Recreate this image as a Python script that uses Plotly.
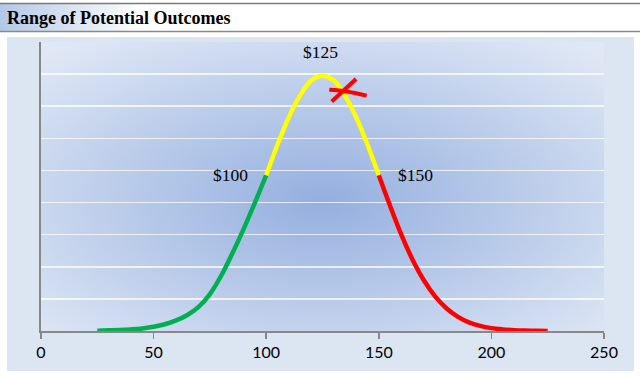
import base64
import plotly.graph_objects as go

# ---------------- data ----------------
green_x = [25, 30, 35, 40, 45, 50, 55, 60, 65, 70, 75, 80, 85, 90, 95, 100]
green_y = [0.01, 0.02, 0.03, 0.05, 0.08, 0.13, 0.21, 0.33, 0.50, 0.75, 1.15, 1.72, 2.42, 3.18, 4.00, 4.85]

yellow_x = [100, 105, 110, 115, 120, 125, 130, 135, 140, 145, 150]
yellow_y = [4.85, 5.80, 6.65, 7.33, 7.80, 7.95, 7.80, 7.33, 6.65, 5.80, 4.85]

red_x = [150, 155, 160, 165, 170, 175, 180, 185, 190, 195, 200, 205, 210, 215, 220, 225]
red_y = [4.85, 3.90, 3.00, 2.22, 1.58, 1.08, 0.71, 0.45, 0.27, 0.16, 0.09, 0.05, 0.025, 0.012, 0.006, 0.003]

# hand-drawn red cross near the peak
cross1_x = [129.1, 139.9]
cross1_y = [7.15, 7.85]
cross2_x = [128.0, 135.7, 144.6]
cross2_y = [7.51, 7.46, 7.33]

label_x = [100, 125, 150]
label_y = [4.85, 7.95, 4.85]
label_text = ["$100", "$125", "$150"]

x_ticks = [0, 50, 100, 150, 200, 250]
grid_vals = [1, 2, 3, 4, 5, 6, 7, 8]

title_text = "Range of Potential Outcomes"

# ---------------- styling ----------------
W, H = 640, 376
L, R, T, B = 41, 36, 42, 45
PW, PH = W - L - R, H - T - B

svg_bg = f'''<svg xmlns="http://www.w3.org/2000/svg" width="{W}" height="{H}" viewBox="0 0 {W} {H}" preserveAspectRatio="none">
<defs><linearGradient id="tg" x1="0" y1="0" x2="1" y2="0">
<stop offset="0" stop-color="#b3c8e6"/><stop offset="0.22" stop-color="#ffffff"/></linearGradient></defs>
<rect x="0" y="0" width="{W}" height="{H}" fill="#ffffff"/>
<rect x="0" y="3" width="{W}" height="28" fill="url(#tg)"/>
<line x1="0" y1="3.5" x2="{W}" y2="3.5" stroke="#7a7a7a" stroke-width="1.6"/>
<line x1="0" y1="31.5" x2="{W}" y2="31.5" stroke="#8a8a8a" stroke-width="1.4"/>
<rect x="7" y="37" width="627" height="334" fill="#dce6f2"/>
</svg>'''

svg_plot = f'''<svg xmlns="http://www.w3.org/2000/svg" width="{PW}" height="{PH}" viewBox="0 0 {PW} {PH}" preserveAspectRatio="none">
<defs><radialGradient id="rg" cx="0.5" cy="0.55" r="0.71">
<stop offset="0" stop-color="#94afdf"/><stop offset="1" stop-color="#e0e8f5"/></radialGradient></defs>
<rect x="0" y="0" width="{PW}" height="{PH}" fill="url(#rg)"/>
</svg>'''


def data_uri(svg):
    return "data:image/svg+xml;base64," + base64.b64encode(svg.encode()).decode()


fig = go.Figure()

for xs, ys, col in [(green_x, green_y, "#00b050"),
                    (yellow_x, yellow_y, "#ffff00"),
                    (red_x, red_y, "#ff0000")]:
    fig.add_trace(go.Scatter(x=xs, y=ys, mode="lines", line=dict(color=col, width=4.5, shape="spline"),
                             hoverinfo="skip", showlegend=False))

for xs, ys in [(cross1_x, cross1_y), (cross2_x, cross2_y)]:
    fig.add_trace(go.Scatter(x=xs, y=ys, mode="lines", line=dict(color="#ff0000", width=4, shape="spline"),
                             hoverinfo="skip", showlegend=False))

label_style = [dict(xanchor="right", yanchor="middle", xshift=-16, yshift=0),
               dict(xanchor="center", yanchor="bottom", xshift=-2, yshift=12),
               dict(xanchor="left", yanchor="middle", xshift=17, yshift=0)]
for lx, ly, lt, st in zip(label_x, label_y, label_text, label_style):
    fig.add_annotation(x=lx, y=ly, text=lt, showarrow=False,
                       font=dict(family="Liberation Serif", size=17.5, color="#000000"), **st)

fig.add_annotation(xref="paper", yref="paper", x=(5 - L) / PW, y=(H - B - 18) / PH,
                   xanchor="left", yanchor="middle", text="<b>" + title_text + "</b>", showarrow=False,
                   font=dict(family="Liberation Serif", size=18, color="#000000"))

fig.update_layout(
    width=W, height=H,
    margin=dict(l=L, r=R, t=T, b=B),
    paper_bgcolor="#ffffff",
    plot_bgcolor="rgba(0,0,0,0)",
    images=[
        dict(source=data_uri(svg_bg), xref="paper", yref="paper",
             x=-L / PW, y=(H - B) / PH, sizex=W / PW, sizey=H / PH,
             xanchor="left", yanchor="top", sizing="stretch", layer="below"),
        dict(source=data_uri(svg_plot), xref="paper", yref="paper",
             x=0, y=1, sizex=1, sizey=1,
             xanchor="left", yanchor="top", sizing="stretch", layer="below"),
    ],
    xaxis=dict(range=[0, 250], tickvals=x_ticks, ticks="outside", ticklen=6, tickwidth=1.5,
               tickcolor="#888888", showline=True, linecolor="#888888", linewidth=2,
               showgrid=False, zeroline=False,
               tickfont=dict(family="Lato", size=16, color="#000000")),
    yaxis=dict(range=[0, 9], tickvals=grid_vals, showticklabels=False, ticks="",
               showgrid=True, gridcolor="rgba(255,255,255,0.75)", gridwidth=1.5,
               showline=True, linecolor="#888888", linewidth=2, zeroline=False),
)

fig.write_html("out.html", config={"displayModeBar": False, "staticPlot": True},
               post_script="document.body.style.margin='0px';document.body.style.overflow='hidden';")
